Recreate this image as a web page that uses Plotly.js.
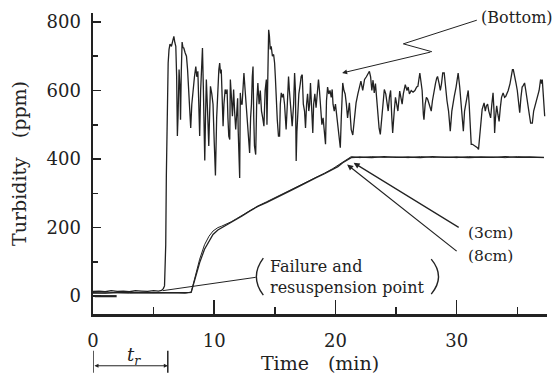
<!DOCTYPE html>
<html>
<head>
<meta charset="utf-8">
<script src="https://cdn.plot.ly/plotly-3.0.1.min.js"></script>
<style>html,body{margin:0;padding:0;background:#fff;}#chart{width:559px;height:380px;}</style>
</head>
<body>
<div id="chart"></div>
<script>
// Turbidity (ppm) vs time (min)
const bottomReadings = [
  [0,14],[0.5,15],[1,13],[1.5,16],[2,14],[2.5,15],[3,13],[3.5,16],[4,15],[4.5,14],
  [5,16],[5.4,15],[5.65,17],[5.8,22],[5.9,30],[6.0,150],[6.05,350],[6.12,560],[6.2,680],[6.27,719],
  [6.35,735],[6.47,729],[6.6,756],[6.67,758],[6.75,740],[6.83,729],[6.9,641],[6.96,467],[7.02,530],[7.1,661],
  [7.18,600],[7.22,515],[7.28,650],[7.35,741],[7.42,725],[7.49,724],[7.6,710],[7.71,700],[7.8,661],[7.9,600],
  [7.98,530],[8.06,491],[8.15,560],[8.26,612],[8.37,640],[8.48,670],[8.56,640],[8.65,656],[8.72,560],[8.8,467],
  [8.88,600],[8.97,719],[9.03,724],[9.1,612],[9.16,500],[9.22,396],[9.28,520],[9.35,632],[9.45,540],[9.55,438],
  [9.62,530],[9.69,612],[9.8,590],[9.9,560],[10.0,450],[10.1,352],[10.2,520],[10.3,632],[10.38,660],[10.45,680],
  [10.52,650],[10.58,661],[10.66,560],[10.73,496],[10.8,560],[10.9,603],[10.98,590],[11.06,603],[11.13,520],[11.2,467],
  [11.28,457],[11.33,632],[11.42,580],[11.5,525],[11.55,560],[11.6,603],[11.68,540],[11.77,486],[11.85,530],[11.93,577],
  [11.98,480],[12.04,350],[12.1,345],[12.15,593],[12.22,560],[12.3,560],[12.38,610],[12.45,651],[12.55,600],[12.64,560],
  [12.72,520],[12.8,486],[12.86,450],[12.92,418],[13.0,520],[13.07,560],[13.14,640],[13.2,670],[13.26,520],[13.32,438],
  [13.42,413],[13.5,560],[13.6,622],
  [13.7,560],[13.8,600],[13.9,540],[14.0,520],[14.1,496],[14.2,600],[14.3,632],[14.35,500],[14.42,700],[14.49,777],
  [14.55,760],[14.62,720],[14.7,729],[14.8,700],[14.9,705],[14.98,680],[15.04,641],[15.12,560],[15.2,515],[15.3,467],
  [15.39,467],[15.45,560],[15.53,593],[15.62,580],[15.7,590],[15.8,560],[15.93,486],[16.03,560],[16.13,641],[16.2,600],
  [16.3,560],[16.43,496],[16.55,560],[16.63,651],[16.7,600],[16.76,394],[16.82,480],[16.9,560],[16.98,590],[17.1,620],
  [17.17,641],[17.26,646],[17.35,560],[17.45,540],[17.53,491],[17.62,560],[17.7,590],[17.8,540],[17.87,560],[17.94,622],
  [18.02,560],[18.13,476],[18.2,560],[18.3,590],[18.4,550],[18.5,600],[18.6,632],[18.68,600],[18.78,560],[18.88,500],
  [18.98,520],[19.1,480],[19.18,443],[19.26,570],[19.35,610],[19.45,590],[19.55,600],[19.65,580],[19.73,603],[19.8,560],
  [19.9,540],[20.0,560],[20.1,530],[20.2,500],[20.3,470],[20.4,433],[20.48,520],[20.6,622],[20.7,600],[20.8,590],
  [20.9,560],[21.0,520],[21.15,564],[21.3,486],
  [21.43,470],[21.55,520],[21.7,564],[21.85,590],[22.0,610],[22.1,627],[22.25,600],[22.4,632],[22.55,640],[22.7,650],
  [22.8,656],[22.9,640],[23.0,600],[23.1,630],[23.2,593],[23.3,620],[23.4,570],[23.5,520],[23.6,490],[23.7,472],
  [23.8,520],[23.9,560],[24.03,603],[24.15,590],[24.25,570],[24.35,540],[24.45,580],[24.55,600],[24.65,520],[24.72,476],
  [24.85,540],[24.95,580],[25.05,560],[25.15,540],[25.3,598],[25.4,580],[25.5,560],[25.6,590],[25.76,617],[25.9,600],
  [26.0,610],[26.1,590],[26.25,600],[26.4,595],[26.55,600],[26.7,610],[26.8,612],[26.96,651],[27.05,632],[27.15,600],
  [27.25,530],[27.3,515],[27.4,560],[27.5,580],[27.6,575],[27.75,560],[27.9,540],[28.0,570],[28.15,607],[28.25,620],
  [28.35,636],[28.42,641],[28.55,620],[28.65,600],[28.75,620],[28.85,651],[28.97,651],[29.1,600],[29.2,570],[29.33,540],
  [29.47,481],
  [29.6,540],[29.7,570],[29.8,583],[29.95,610],[30.08,640],[30.12,651],[30.25,610],[30.35,560],[30.48,486],[30.55,481],
  [30.65,540],[30.75,560],[30.84,573],[30.95,600],[31.03,560],[31.1,486],[31.2,443],[31.3,443],[31.45,440],[31.6,435],
  [31.71,433],[31.8,428],[31.9,470],[32.0,520],[32.1,545],[32.26,564],[32.36,540],[32.45,555],[32.55,560],[32.65,540],
  [32.8,520],[32.9,560],[33.0,593],[33.08,540],[33.13,476],[33.2,520],[33.3,555],[33.4,530],[33.5,510],[33.6,550],
  [33.7,580],[33.83,593],[33.95,580],[34.05,583],[34.15,590],[34.25,600],[34.4,620],[34.5,640],[34.6,661],[34.67,661],
  [34.8,630],[34.9,620],[35.0,600],[35.1,560],[35.2,535],[35.3,580],[35.4,610],[35.5,615],[35.6,622],[35.7,600],
  [35.85,570],[35.95,540],[36.1,505],[36.24,505],[36.35,540],[36.5,560],[36.6,580],[36.7,590],[36.8,600],[36.92,632],
  [37.0,620],[37.06,632],[37.12,590],[37.2,535],[37.26,525]
];

const cm3Time = [0, 1, 2, 3, 4, 5, 6, 7, 7.6, 8.1, 8.4, 8.8, 9.2, 9.57, 9.9, 10.3, 10.6, 11.0, 11.4, 11.83, 12.3, 12.92, 13.6, 14.3, 15.0, 15.66, 16.3, 17.04, 17.7, 18.41, 19.1, 19.78, 20.2, 20.6, 21.0, 21.3, 22, 23, 24, 25, 26, 27, 28, 29, 30, 31, 32, 33, 34, 35, 36, 37.2];
const cm3Ppm  = [10, 9, 11, 10, 9, 10, 10, 9, 10, 11, 49, 98, 137, 161, 180, 193, 199, 207, 214, 224, 234, 248, 262, 273, 286, 297, 308, 321, 334, 346, 357, 370, 378, 389, 398, 404, 406, 404, 407, 405, 406, 404, 407, 405, 406, 404, 406, 405, 407, 405, 406, 405];

const cm8Time = [0, 1, 2, 3, 4, 5, 6, 7, 7.6, 8.1, 8.4, 8.8, 9.2, 9.57, 9.9, 10.3, 10.6, 11.0, 11.4, 11.83, 12.3, 12.92, 13.6, 14.3, 15.0, 15.66, 16.3, 17.04, 17.7, 18.41, 19.1, 19.78, 20.2, 20.6, 21.0, 21.3, 22, 23, 24, 25, 26, 27, 28, 29, 30, 31, 32, 33, 34, 35, 36, 37.2];
const cm8Ppm  = [9, 10, 10, 9, 10, 9, 10, 10, 9, 12, 55, 108, 150, 175, 190, 200, 204, 210, 217, 226, 236, 250, 263, 275, 287, 299, 310, 323, 335, 348, 359, 372, 381, 392, 400, 407, 404, 407, 405, 406, 404, 407, 405, 406, 404, 407, 405, 406, 404, 407, 405, 404];

const zeroRefTime = [0.15, 1.95];
const zeroRefPpm = [0, 0];

const xTicks = [0, 10, 20, 30];
const yTicks = [0, 200, 400, 600, 800];

const ink = '#222';
const font = 'DejaVu Serif, serif';

const traces = [
  {x: bottomReadings.map(p => p[0]), y: bottomReadings.map(p => p[1]), mode: 'lines', line: {color: ink, width: 1.3}, name: 'Bottom'},
  {x: cm3Time, y: cm3Ppm, mode: 'lines', line: {color: ink, width: 1.3}, name: '3cm'},
  {x: cm8Time, y: cm8Ppm, mode: 'lines', line: {color: ink, width: 1}, name: '8cm'},
  {x: zeroRefTime, y: zeroRefPpm, mode: 'lines', line: {color: ink, width: 2.2}, name: 'zero'}
];

const thin = {color: ink, width: 1};
const layout = {
  width: 559, height: 380,
  margin: {l: 93, r: 12, t: 13, b: 66},
  paper_bgcolor: '#fff', plot_bgcolor: '#fff',
  showlegend: false,
  font: {family: font, color: ink, size: 18},
  xaxis: {
    range: [0, 37.45], tickvals: xTicks, ticktext: xTicks.map(String),
    ticks: 'inside', ticklen: 14, tickwidth: 1.5, tickcolor: ink,
    minor: {dtick: 5, tick0: 0, ticks: 'inside', ticklen: 7, tickwidth: 1.5, tickcolor: ink, showgrid: false},
    showline: true, linewidth: 2.5, linecolor: ink, showgrid: false, zeroline: false,
    tickfont: {size: 18, family: font, color: ink}, ticklabelstandoff: 9,
    title: {text: 'Time\u2003(min)', font: {size: 19, family: font, color: ink}, standoff: 7}
  },
  yaxis: {
    range: [-52, 826], tickvals: yTicks, ticktext: yTicks.map(String),
    ticks: 'inside', ticklen: 8, tickwidth: 1.5, tickcolor: ink,
    minor: {dtick: 100, tick0: 0, ticks: 'inside', ticklen: 5, tickwidth: 1.5, tickcolor: ink, showgrid: false},
    showline: true, linewidth: 2.5, linecolor: ink, showgrid: false, zeroline: false,
    tickfont: {size: 18, family: font, color: ink}, ticklabelstandoff: 6,
    title: {text: 'Turbidity\u2003(ppm)', font: {size: 19, family: font, color: ink}, standoff: 15}
  },
  shapes: [
    // Bottom leader (zigzag)
    {type: 'line', xref: 'x', yref: 'y', x0: 31.66, y0: 805, x1: 25.6, y1: 736, line: thin},
    {type: 'line', xref: 'x', yref: 'y', x0: 25.6, y0: 736, x1: 27.96, y1: 713, line: thin},
    // Failure leader
    {type: 'line', xref: 'x', yref: 'y', x0: 13.42, y0: 55, x1: 5.74, y1: 16, line: thin},
    // parentheses
    {type: 'path', xref: 'x', yref: 'y', path: 'M 14.05,111 Q 12.9,57 14.05,3', line: {color: ink, width: 1.4}},
    {type: 'path', xref: 'x', yref: 'y', path: 'M 27.9,108 Q 29.1,57 27.9,6', line: {color: ink, width: 1.4}},
    // tr bracket bars
    {type: 'line', xref: 'x', yref: 'paper', x0: 0, x1: 0, y0: -0.122, y1: -0.195, line: {color: ink, width: 1.5}},
    {type: 'line', xref: 'x', yref: 'paper', x0: 6.17, x1: 6.17, y0: -0.122, y1: -0.195, line: {color: ink, width: 1.5}}
  ],
  annotations: [
    {x: 35.0, y: 814, xref: 'x', yref: 'y', text: '(Bottom)', showarrow: false, font: {size: 16, family: font, color: ink}},
    {x: 20.55, y: 651, xref: 'x', yref: 'y', ax: 27.96, ay: 713, axref: 'x', ayref: 'y', text: '', showarrow: true, arrowhead: 2, arrowsize: 1, arrowwidth: 1, arrowcolor: ink},
    {x: 21.5, y: 389, xref: 'x', yref: 'y', ax: 30.29, ay: 198, axref: 'x', ayref: 'y', text: '', showarrow: true, arrowhead: 2, arrowsize: 1, arrowwidth: 1.2, arrowcolor: ink},
    {x: 20.96, y: 384, xref: 'x', yref: 'y', ax: 30.12, ay: 128, axref: 'x', ayref: 'y', text: '', showarrow: true, arrowhead: 2, arrowsize: 1, arrowwidth: 1.2, arrowcolor: ink},
    {x: 32.75, y: 183, xref: 'x', yref: 'y', text: '(3cm)', showarrow: false, font: {size: 15.5, family: font, color: ink}},
    {x: 32.75, y: 117, xref: 'x', yref: 'y', text: '(8cm)', showarrow: false, font: {size: 15.5, family: font, color: ink}},
    {x: 14.45, y: 56, xref: 'x', yref: 'y', xanchor: 'left', align: 'left', text: 'Failure and<br>resuspension point', showarrow: false, font: {size: 16, family: font, color: ink}},
    {x: 6.17, y: -0.172, xref: 'x', yref: 'paper', ax: 0, ay: -0.172, axref: 'x', ayref: 'paper', text: '', showarrow: true, arrowhead: 2, arrowside: 'end+start', arrowsize: 0.8, arrowwidth: 1, arrowcolor: ink},
    {x: 3.4, y: -0.185, xref: 'x', yref: 'paper', text: '<i>t<sub>r</sub></i>', showarrow: false, font: {size: 18, family: font, color: ink}}
  ]
};

Plotly.newPlot('chart', traces, layout, {displayModeBar: false, staticPlot: true});
</script>
</body>
</html>
